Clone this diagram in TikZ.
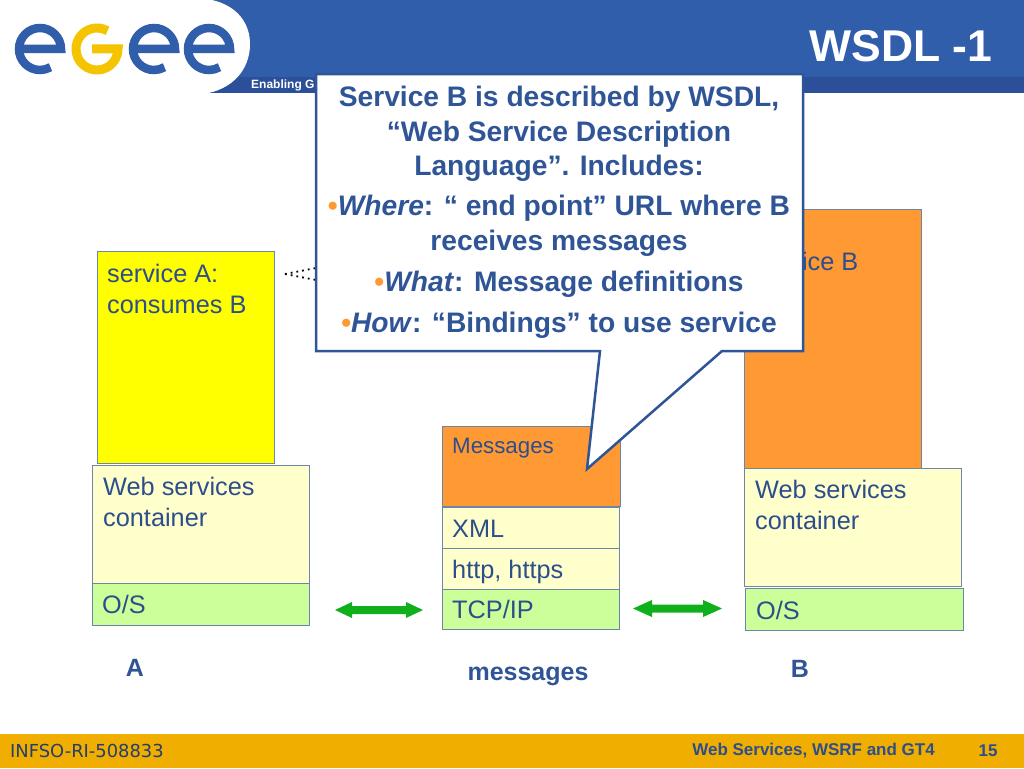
\documentclass[tikz,border=0pt]{standalone}
\usepackage{fontspec}
\setmainfont{Liberation Sans}
\newfontfamily\footfont{DejaVu Sans}
\usepackage{xcolor}
\definecolor{headblue}{HTML}{315EAB}
\definecolor{stripblue}{HTML}{2B4F98}
\definecolor{inkblue}{HTML}{2D4E8C}
\definecolor{lineblue}{HTML}{6E84A8}
\definecolor{calloutblue}{HTML}{2F5597}
\definecolor{creamfill}{HTML}{FFFFCC}
\definecolor{limefill}{HTML}{CCFF99}
\definecolor{orangefill}{HTML}{FF9933}
\definecolor{signalyellow}{HTML}{FFFF00}
\definecolor{arrowgreen}{HTML}{10B01C}
\definecolor{footgold}{HTML}{F0AE00}
\definecolor{logoyellow}{HTML}{F5C400}
\tikzset{
  box/.style={draw=lineblue,line width=1pt,inner sep=0pt},
  boxtext/.style={font=\fontsize{25.3}{31}\selectfont,text=inkblue,align=left,anchor=north west,inner sep=0pt},
  calltext/.style={font=\fontsize{28.2}{34}\selectfont\bfseries,text=calloutblue,align=center,inner sep=0pt},
  tag/.style={font=\fontsize{25}{30}\selectfont\bfseries,text=calloutblue,inner sep=0pt},
  greenarrow/.style={fill=arrowgreen,draw=none}
}
\begin{document}
\begin{tikzpicture}[x=1pt,y=-1pt]
            \useasboundingbox (0,0) rectangle (1024,768);
            % header
            \fill[headblue] (0,0) rectangle (1024,77);
            \fill[stripblue] (0,77) rectangle (1024,93);
            \fill[white] (0,0) -- (212,0) .. controls (238,6) and (250,24) .. (250,44) .. controls (250,70) and (232,90) .. (203,94) -- (0,94) -- cycle;
            \foreach \cx/\col in {40/headblue,154/headblue,209/headblue} {
                \draw[\col,line width=8.5pt] (\cx-21,49) -- (\cx+21,49) arc (0:-300:21);
            }
            \coordinate (gstart) at (107.5,30.8);
            \draw[logoyellow,line width=9pt] (gstart) arc (-60:-360:21) -- (92,49);
            \node (title) at (901,46) [font=\fontsize{44.5}{50}\selectfont\bfseries,text=white,inner sep=0pt] {WSDL -1};
            \node (enabling) at (251,85.5) [anchor=west,font=\fontsize{12}{14}\selectfont\bfseries,text=white,inner sep=0pt] {Enabling G};

            % service A column
            \draw[box,fill=signalyellow] (97,251) rectangle (274,463);
            \draw[box,fill=creamfill] (92,465) rectangle (309,583);
            \draw[box,fill=limefill] (92,583) rectangle (309,625);
            \node (serviceA) at (107,264) [boxtext] {service A:\\consumes B};
            \node (wsA) at (103,477) [boxtext] {Web services\\container};
            \node (osA) at (102,595) [boxtext] {O/S};
            \node (tagA) at (135,668) [tag] {A};

            % messages column
            \draw[box,fill=orangefill] (442,426) rectangle (620,506);
            \draw[box,fill=creamfill] (442,507) rectangle (619,548);
            \draw[box,fill=creamfill] (442,548) rectangle (619,589);
            \draw[box,fill=limefill] (442,589) rectangle (619,629);
            \node (msgs) at (452,438) [boxtext,font=\fontsize{22.3}{26}\selectfont] {Messages};
            \node (xml) at (452,519.5) [boxtext] {XML};
            \node (http) at (452,559.5) [boxtext] {http, https};
            \node (tcp) at (452,600) [boxtext] {TCP/IP};
            \node (tagMsg) at (528,676) [tag] {messages};

            % service B column
            \draw[box,fill=orangefill] (744,209) rectangle (921,468);
            \draw[box,fill=creamfill] (744,468) rectangle (961,586);
            \draw[box,fill=limefill] (745,588) rectangle (963,630);
            \node (serviceB) at (754,252) [boxtext] {service B};
            \node (wsB) at (755,480) [boxtext] {Web services\\container};
            \node (osB) at (756,601) [boxtext] {O/S};
            \node (tagB) at (800,669) [tag] {B};

            % double arrows
            \fill[greenarrow] (335,610) -- (352,602) -- (352,606) -- (406,606) -- (406,602) -- (423,610) -- (406,618) -- (406,614) -- (352,614) -- (352,618) -- cycle;
            \fill[greenarrow] (633,608.5) -- (652,600) -- (652,604.5) -- (703,604.5) -- (703,600) -- (722,608.5) -- (703,617) -- (703,612.5) -- (652,612.5) -- (652,617) -- cycle;

            % dotted connector behind callout
            \coordinate (dotsA) at (285,274);
            \coordinate (dotsB) at (316,268);
            \coordinate (dotsC) at (316,280);
            \draw[black,line width=1.8pt,dash pattern=on 1.8pt off 4pt] (dotsA) -- (dotsB) (dotsA) -- (dotsC);

            % callout
            \draw[calloutblue,line width=2.5pt,fill=white] (316,74) -- (803,74) -- (803,351) -- (722,351) -- (587,469) -- (600,351) -- (316,351) -- cycle;
            \node (callA) at (559,99) [calltext] {Service B is described by WSDL,};
            \node (callB) at (559,134) [calltext] {“Web Service Description};
            \node (callC) at (559,168) [calltext] {Language”. Includes:};
            \node (callD) at (559,208) [calltext] {{\color{orangefill}\textbullet}\textit{Where}: “ end point” URL where B};
            \node (callE) at (559,243) [calltext] {receives messages};
            \node (callF) at (559,284) [calltext] {{\color{orangefill}\textbullet}\textit{What}: Message definitions};
            \node (callG) at (559,325) [calltext] {{\color{orangefill}\textbullet}\textit{How}: “Bindings” to use service};

            % footer
            \fill[footgold] (0,734) rectangle (1024,768);
            \node (footL) at (10,751) [anchor=west,font=\footfont\fontsize{17.9}{20}\selectfont,text=inkblue!80!black,inner sep=0pt] {INFSO-RI-508833};
            \node (footM) at (935,751) [anchor=east,font=\fontsize{17}{20}\selectfont\bfseries,text=inkblue,inner sep=0pt] {Web Services, WSRF and GT4};
            \node (footN) at (988,751) [font=\fontsize{17}{20}\selectfont\bfseries,text=inkblue,inner sep=0pt] {15};
        \end{tikzpicture}
\end{document}
